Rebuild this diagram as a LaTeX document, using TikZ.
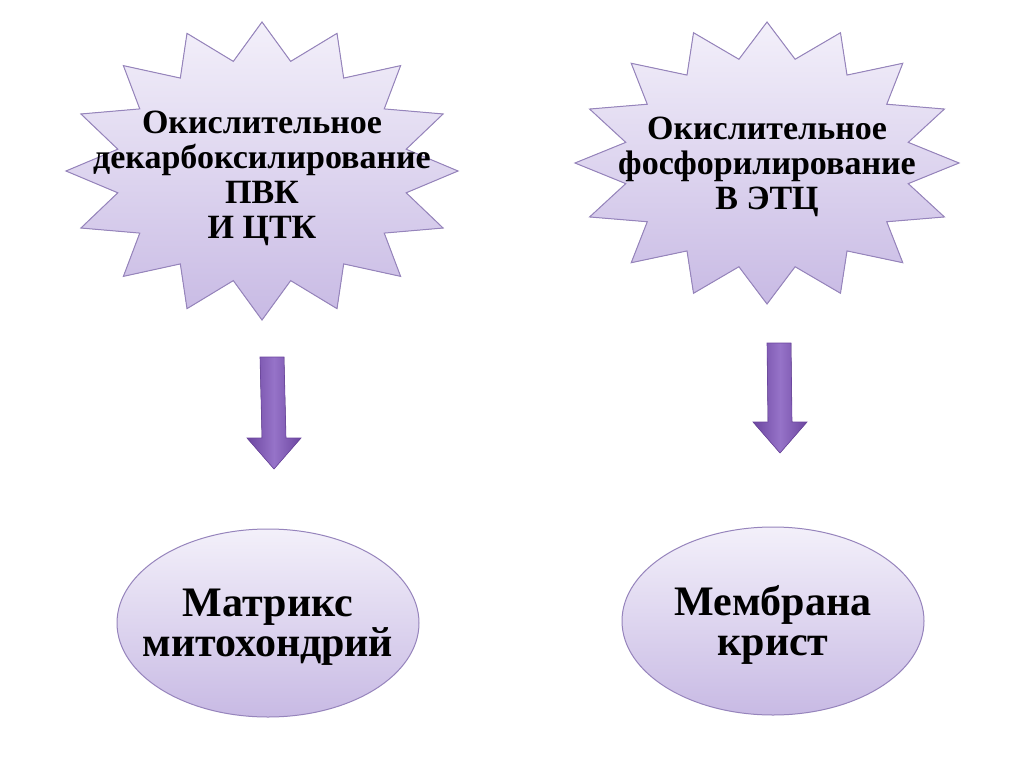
\documentclass[tikz,border=0pt]{standalone}
\usepackage{fontspec}
\setmainfont{Liberation Serif}
\usetikzlibrary{calc, shapes.geometric}

\definecolor{lilactop}{RGB}{243,240,250}
\definecolor{lilacbot}{RGB}{200,186,228}
\definecolor{lilacline}{RGB}{150,132,188}
\definecolor{arrowdark}{RGB}{108,70,160}
\definecolor{arrowlight}{RGB}{150,115,200}

\tikzset{
  burst/.style={draw=lilacline, line width=1pt, top color=lilactop, bottom color=lilacbot},
  oval/.style={ellipse, draw=lilacline, line width=1pt, top color=lilactop, bottom color=lilacbot,
    minimum width=302pt, minimum height=188pt, inner sep=0pt},
  burstText/.style={align=center, font=\bfseries\fontsize{34}{35}\selectfont},
  ovalText/.style={align=center, font=\bfseries\fontsize{42}{40}\selectfont},
  blockArrow/.style={draw=arrowdark, line width=0.6pt, left color=arrowdark, right color=arrowdark, middle color=arrowlight}
}

\begin{document}
\begin{tikzpicture}[x=1pt,y=-1pt]
        \useasboundingbox[fill=white] (0,0) rectangle (1024,767);
        % the two stars
        \coordinate (c1) at (262,171);
        \coordinate (c2) at (767,163);
        \foreach \c/\rx/\ry in {c1/196/149, c2/192/141}
            \filldraw[burst] ($(\c)+(90:\rx pt and \ry pt)$)
                \foreach \i [evaluate=\i as \r using {mod(\i,2)==0 ? 1 : 0.75}] in {1,...,31}
                    { -- ($(\c)+({90+\i*11.25}:{\r*\rx pt} and {\r*\ry pt})$) } -- cycle;
        \node[burstText] (okdek) at (262,178) {Окислительное\\декарбоксилирование\\ПВК\\И ЦТК};
        \node[burstText] (okfos) at (767,167) {Окислительное\\фосфорилирование\\В ЭТЦ};
        % places
        \node[oval] (matrix) at (268,623) {};
        \node[oval] (membr) at (773,621) {};
        \node[ovalText] at (matrix.center) [yshift=-4pt] {Матрикс\\митохондрий};
        \node[ovalText] at (membr.center) [yshift=-4pt] {Мембрана\\крист};
        % arrows
        \coordinate (a1top) at (272,357);
        \coordinate (a1tip) at (274,469);
        \coordinate (a2top) at (779,343);
        \coordinate (a2tip) at (780,453);
        \foreach \s/\e in {a1top/a1tip, a2top/a2tip}
            \filldraw[blockArrow] ($(\s)+(-12,0)$) -- ($(\s)+(12,0)$) -- ($(\e)+(12,-31)$) -- ($(\e)+(27,-31)$)
                -- (\e) -- ($(\e)+(-27,-31)$) -- ($(\e)+(-12,-31)$) -- cycle;
    \end{tikzpicture}
\end{document}
